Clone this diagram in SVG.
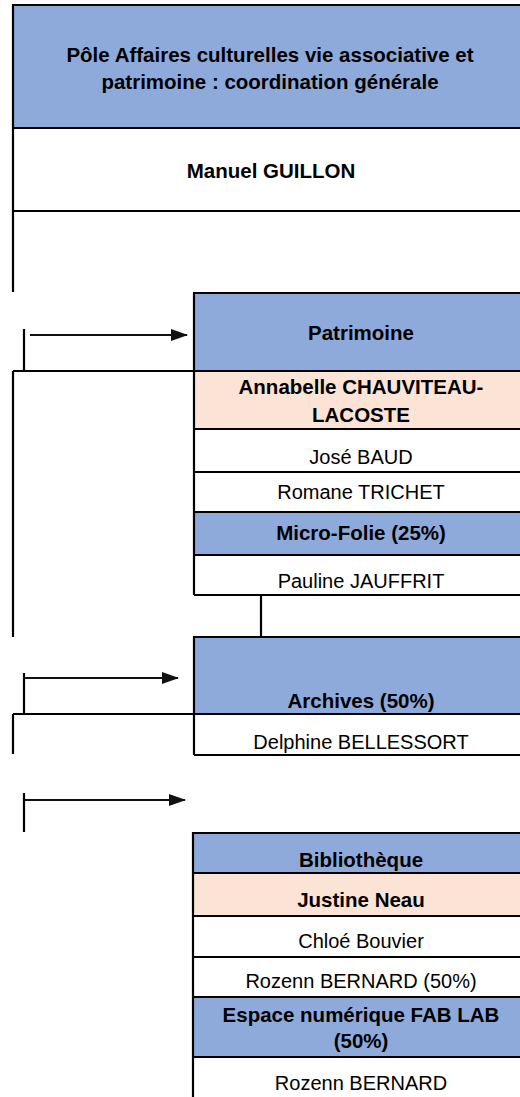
<svg xmlns="http://www.w3.org/2000/svg" width="520" height="1097" viewBox="0 0 520 1097">
<defs>
<style>
.b{fill:#8EAADB}.p{fill:#FBE4D5}.w{fill:#fff}
.ln{stroke:#000;stroke-width:2.2;fill:none}
.ar{stroke:#111;stroke-width:2;fill:none}
text{font-family:"Liberation Sans",Arial,sans-serif;fill:#000;text-anchor:middle}
.tb{font-weight:bold;font-size:20.5px}
.tr{font-size:20px}
</style>
<marker id="ah" markerWidth="17" markerHeight="12" refX="16" refY="6" orient="auto" markerUnits="userSpaceOnUse">
<path d="M0,0 L17,6 L0,12 Z" fill="#111"/>
</marker>
</defs>
<rect width="520" height="1097" fill="#fff"/>

<g id="pole">
<rect class="b" x="13" y="5" width="520" height="123"/>
<path class="ln" d="M13,292 V5 H530 M13,128 H530 M13,211 H530"/>
<text class="tb" x="270" y="62">Pôle Affaires culturelles vie associative et</text>
<text class="tb" x="270" y="89">patrimoine : coordination générale</text>
<text class="tb" x="271" y="178">Manuel GUILLON</text>
</g>

<g id="patrimoine">
<rect class="b" x="194" y="293" width="340" height="78"/>
<rect class="p" x="194" y="371" width="340" height="58"/>
<rect class="b" x="194" y="512" width="340" height="43"/>
<path class="ln" d="M194,595 V293 H530 M194,371 H530 M194,429 H530 M194,472 H530 M194,512 H530 M194,555 H530 M194,595 H530"/>
<text class="tb" x="361" y="340">Patrimoine</text>
<text class="tb" x="361" y="394">Annabelle CHAUVITEAU-</text>
<text class="tb" x="361" y="422">LACOSTE</text>
<text class="tr" x="361" y="464">José BAUD</text>
<text class="tr" x="361" y="499">Romane TRICHET</text>
<text class="tb" x="361" y="540">Micro-Folie (25%)</text>
<text class="tr" x="361" y="588">Pauline JAUFFRIT</text>
</g>

<g id="archives">
<rect class="b" x="194" y="637" width="340" height="77"/>
<path class="ln" d="M194,755 V637 H530 M194,714 H530 M194,755 H530"/>
<text class="tb" x="361" y="708">Archives (50%)</text>
<text class="tr" x="361" y="749">Delphine BELLESSORT</text>
</g>

<g id="bibliotheque">
<rect class="b" x="193" y="833" width="340" height="40"/>
<rect class="p" x="193" y="873" width="340" height="43"/>
<rect class="b" x="193" y="997" width="340" height="60"/>
<path class="ln" d="M193,1100 V833 H530 M193,873 H530 M193,916 H530 M193,957 H530 M193,997 H530 M193,1057 H530"/>
<text class="tb" x="361" y="867">Bibliothèque</text>
<text class="tb" x="361" y="907">Justine Neau</text>
<text class="tr" x="361" y="948">Chloé Bouvier</text>
<text class="tr" x="361" y="988">Rozenn BERNARD (50%)</text>
<text class="tb" x="361" y="1022">Espace numérique FAB LAB</text>
<text class="tb" x="361" y="1048">(50%)</text>
<text class="tr" x="361" y="1090">Rozenn BERNARD</text>
</g>

<g id="connectors">
<path class="ln" d="M24,329 V371 M13,371 H194 M13,371 V637"/>
<path class="ar" d="M30,335 H187" marker-end="url(#ah)"/>
<path class="ln" d="M261,595 V637"/>
<path class="ln" d="M24,673 V714 M13,714 H194 M13,714 V754"/>
<path class="ar" d="M23,678 H178" marker-end="url(#ah)"/>
<path class="ln" d="M24,793 V832"/>
<path class="ar" d="M25,800 H185" marker-end="url(#ah)"/>
</g>
</svg>
